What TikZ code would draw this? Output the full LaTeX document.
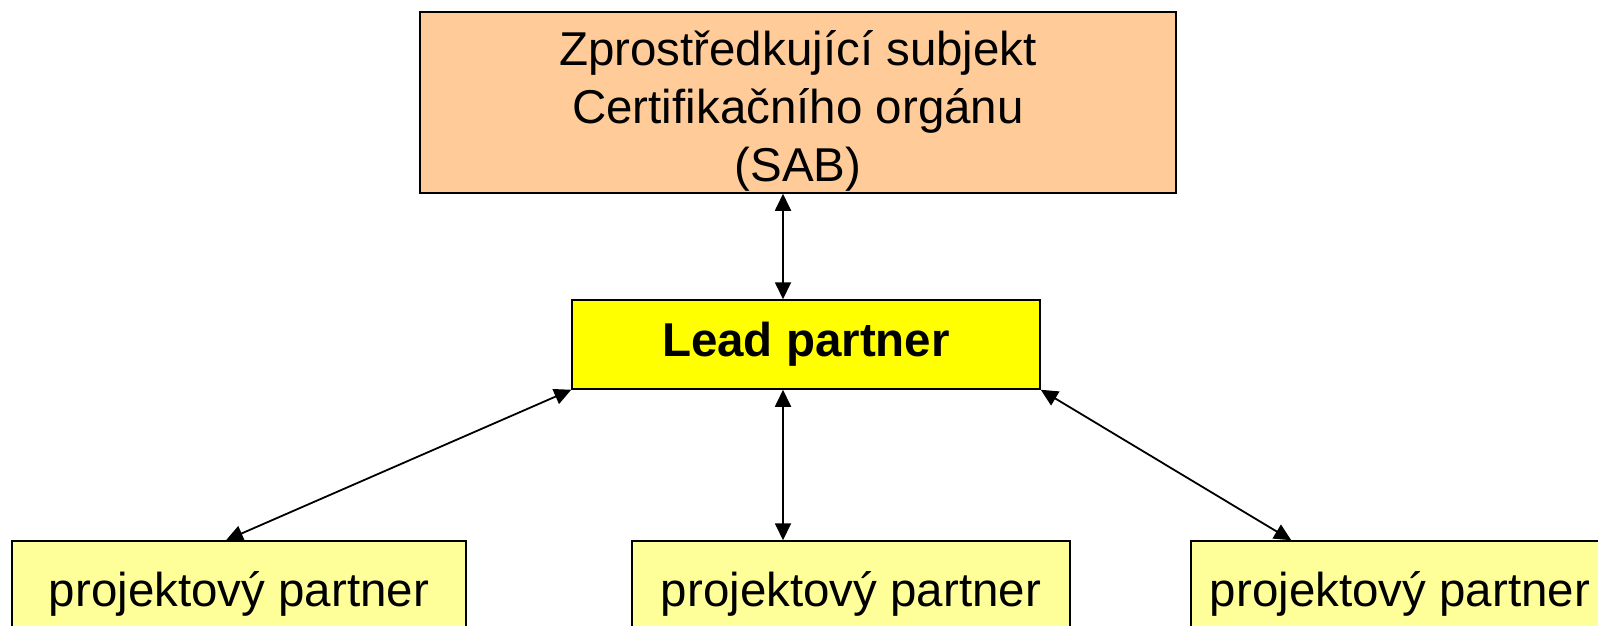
\documentclass[tikz,border=0pt]{standalone}
\usepackage{fontspec}
\setmainfont{Liberation Sans}
\definecolor{sabpeach}{RGB}{255, 204, 153}
\definecolor{leadyellow}{RGB}{255, 255, 0}
\definecolor{partneryellow}{RGB}{255, 255, 153}
\usetikzlibrary{arrows.meta, positioning}

\begin{document}
\begin{tikzpicture}[x=1pt, y=-1pt,
  orgbox/.style={draw, line width=1.5pt, inner sep=0pt, align=center, font=\fontsize{47.5}{58}\selectfont},
  link/.style={line width=1.8pt, {Triangle[length=17pt, width=16pt]}-{Triangle[length=17pt, width=16pt]}}
]
  \useasboundingbox (0,0) rectangle (1598,625);
  \clip (0,0) rectangle (1598,625);

  % Intermediate body
  \node[orgbox, fill=sabpeach, minimum width=756pt, minimum height=181pt, text depth=61pt] (sab) at (798, 102.5) {%
    \begin{tabular}{@{}c@{}}
      Zprostředkující subjekt\\
      Certifikačního orgánu\\
      (SAB)
    \end{tabular}%
  };

  % Lead partner
  \node[orgbox, fill=leadyellow, minimum width=468pt, minimum height=89pt] (lead) at (806, 344.5) {\textbf{Lead partner}};

  % Project partners
  \node[orgbox, fill=partneryellow, minimum width=454pt, minimum height=106pt] (pp1) at (239, 594) {projektový partner};
  \node[orgbox, fill=partneryellow, minimum width=438pt, minimum height=106pt] (pp2) at (851, 594) {projektový partner};
  \node[orgbox, fill=partneryellow, minimum width=418pt, minimum height=106pt] (pp3) at (1400, 594) {projektový partner};

  % Links
  \draw[link] ([xshift=-15pt]sab.south) -- ([xshift=-23pt]lead.north);
  \draw[link] ([xshift=-23pt]lead.south) -- ([xshift=-68pt]pp2.north);
  \draw[link] (lead.south west) -- ([xshift=-13pt]pp1.north);
  \draw[link] (lead.south east) -- ([xshift=101pt]pp3.north west);
\end{tikzpicture}
\end{document}
